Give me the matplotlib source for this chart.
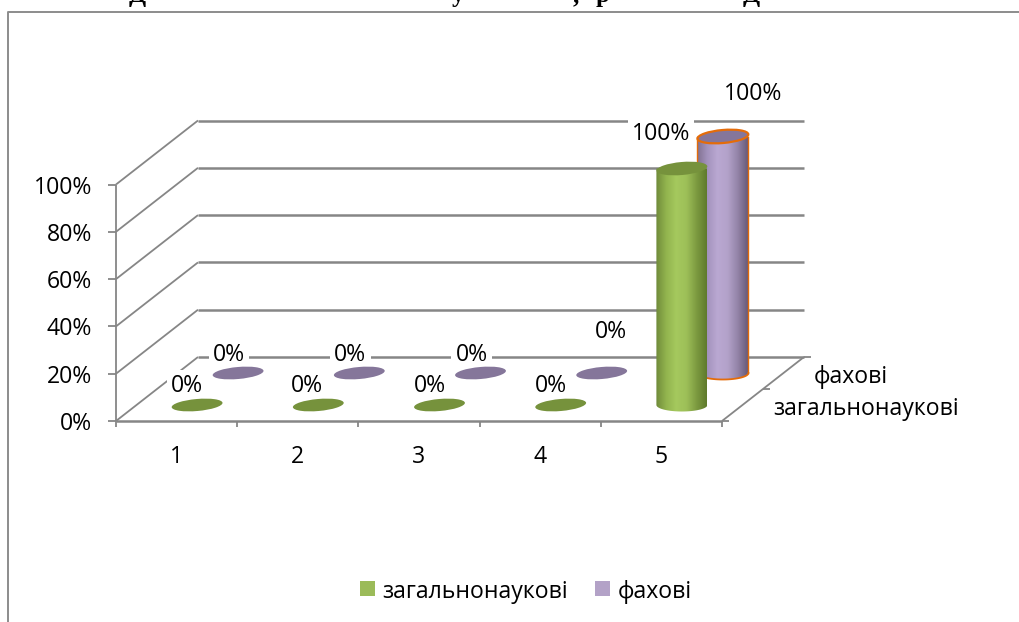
"""3D-style clustered cylinder chart, drawn with an oblique projection."""
import numpy as np
import matplotlib
matplotlib.use("Agg")
import matplotlib.pyplot as plt
from matplotlib.patches import Ellipse, PathPatch, Rectangle
from matplotlib.path import Path
from matplotlib.colors import LinearSegmentedColormap

plt.rcParams["font.family"] = ["Open Sans", "DejaVu Sans"]

categories = ["1", "2", "3", "4", "5"]
series_names = ["загальнонаукові", "фахові"]
general_values = [0, 0, 0, 0, 100]
major_values = [0, 0, 0, 0, 100]
percent_ticks = [0, 20, 40, 60, 80, 100]
# bits of the cut-off heading that still show above the chart frame
heading_bits = ["Д", "у", ",", "р", "Д"]

W, H = 1019, 622
FONT = 16.6
GRID = "#868686"

# projection: front floor corner, sizes of the plot box in pixels
X0, Y0 = 116.0, 421.0
CAT_W = 121.2
VAL_H = 236.5
DX, DY = 82.0, -64.0


def proj(cat, depth, value):
    return X0 + cat * CAT_W + depth * DX, Y0 + depth * DY - value / 100.0 * VAL_H


def line(ax, a, b, lw=1.3, z=1):
    ax.plot([a[0], b[0]], [a[1], b[1]], color=GRID, lw=lw, zorder=z, solid_capstyle="butt")


def cylinder(ax, cat, depth, value, cmap, top_col, edge=None, z=3):
    cx, by = proj(cat + 0.5, depth, 0)
    _, ty = proj(cat + 0.5, depth, value)
    rx, ry, ang = 25.5, 6.5, -5
    if value == 0:
        ax.add_patch(Ellipse((cx, by), rx * 2, ry * 2 - 1, angle=ang, fc=top_col, ec="none", zorder=z))
        return
    # body outline: two sides, half ellipse round the bottom
    t = np.linspace(0, np.pi, 40)
    xs = cx + rx * np.cos(t)
    ys = by + ry * np.sin(t)
    verts = [(cx - rx, ty)] + list(zip(xs[::-1], ys[::-1])) + [(cx + rx, ty)]
    body = PathPatch(Path(verts + [verts[0]], closed=True), fc="none", ec="none", zorder=z)
    ax.add_patch(body)
    grad = np.linspace(0, 1, 256).reshape(1, -1)
    im = ax.imshow(grad, cmap=cmap, extent=(cx - rx, cx + rx, by + ry + 1, ty - 1), aspect="auto",
                   zorder=z, interpolation="bilinear")
    im.set_clip_path(body)
    if edge:
        ax.plot([cx - rx, cx - rx], [ty, by], color=edge, lw=1.0, zorder=z)
        ax.plot([cx + rx, cx + rx], [ty, by], color=edge, lw=1.0, zorder=z)
        ax.plot(xs, ys, color=edge, lw=1.3, zorder=z)
    ax.add_patch(Ellipse((cx, ty), rx * 2, ry * 2, angle=ang, fc=top_col, ec=edge or "none",
                         lw=1.6, zorder=z + 0.1))


fig = plt.figure(figsize=(W / 100, H / 100), dpi=100)
ax = fig.add_axes([0, 0, 1, 1])
ax.set_xlim(0, W)
ax.set_ylim(H, 0)
ax.axis("off")

# outer chart frame runs off the right and bottom of the page
ax.plot([8, 8, W], [H, 11.5, 11.5], color="#8c8c8c", lw=1.4, zorder=1)
for s, x in zip(heading_bits, [137, 458, 576, 603, 751]):
    ax.text(x, 2, s, ha="center", va="baseline", fontsize=18, fontweight="bold",
            family="Liberation Serif", clip_on=True)

# walls and floor
n = len(categories)
for v in percent_ticks:
    a, b, c = proj(0, 0, v), proj(0, 1, v), proj(n, 1, v)
    line(ax, a, b)
    line(ax, b, c, lw=1.8)
    line(ax, (a[0] - 8, a[1]), a)
    ax.text(92, a[1] + 3, f"{v}%", ha="right", va="center", fontsize=FONT, zorder=2)
line(ax, proj(0, 0, 0), proj(0, 0, 100))
line(ax, proj(0, 0, 0), proj(n, 0, 0), lw=1.8)
line(ax, proj(n, 0, 0), proj(n, 1, 0))
for i in range(n + 1):
    p = proj(i, 0, 0)
    line(ax, p, (p[0], p[1] + 6))
for d in [0, 0.5, 1]:
    p = proj(n, d, 0)
    line(ax, p, (p[0] + 7, p[1]))
for i, name in enumerate(categories):
    p = proj(i + 0.5, 0, 0)
    ax.text(p[0], 457, name, ha="center", va="center", fontsize=FONT, zorder=2)

# depth axis labels
ax.text(851, 377, series_names[1], ha="center", va="center", fontsize=FONT, zorder=2)
ax.text(866, 409, series_names[0], ha="center", va="center", fontsize=FONT, zorder=2)

green = LinearSegmentedColormap.from_list("g", ["#6f8a3a", "#92b44e", "#a5c95e", "#9dbf58", "#7c9a40", "#5f7a2c"])
purple = LinearSegmentedColormap.from_list("p", ["#80708f", "#a392bc", "#baa8d2", "#b3a2ca", "#9484a8", "#675a78"])

# back series first, so the front one overlaps it
for i, v in enumerate(major_values):
    cylinder(ax, i, 0.75, v, purple, "#85769a", edge="#e46c0a" if v else None)
for i, v in enumerate(general_values):
    cylinder(ax, i, 0.25, v, green, "#76923c", z=4)

# data labels, offsets from the top of each cylinder
white = dict(fc="white", ec="none", pad=3)
green_offsets = [(-10, -19), (-11, -19), (-10, -19), (-10, -19), (-21, -35)]
major_offsets = [(-9, -18), (-9, -18), (-9, -18), (9, -41), (30, -42)]
for i, v in enumerate(general_values):
    x, y = proj(i + 0.5, 0.25, v)
    ox, oy = green_offsets[i]
    ax.text(x + ox, y + oy, f"{v}%", ha="center", va="center", fontsize=FONT, bbox=white, zorder=2.5)
for i, v in enumerate(major_values):
    x, y = proj(i + 0.5, 0.75, v)
    ox, oy = major_offsets[i]
    ax.text(x + ox, y + oy, f"{v}%", ha="center", va="center", fontsize=FONT, bbox=white, zorder=2.5)

# legend
ax.add_patch(Rectangle((360, 581), 15, 15, fc="#9bbb59", ec="none"))
ax.text(382, 592, series_names[0], ha="left", va="center", fontsize=FONT)
ax.add_patch(Rectangle((595, 581), 15, 15, fc="#b3a2c7", ec="none"))
ax.text(618, 592, series_names[1], ha="left", va="center", fontsize=FONT)

fig.savefig("out.png", dpi=100)
